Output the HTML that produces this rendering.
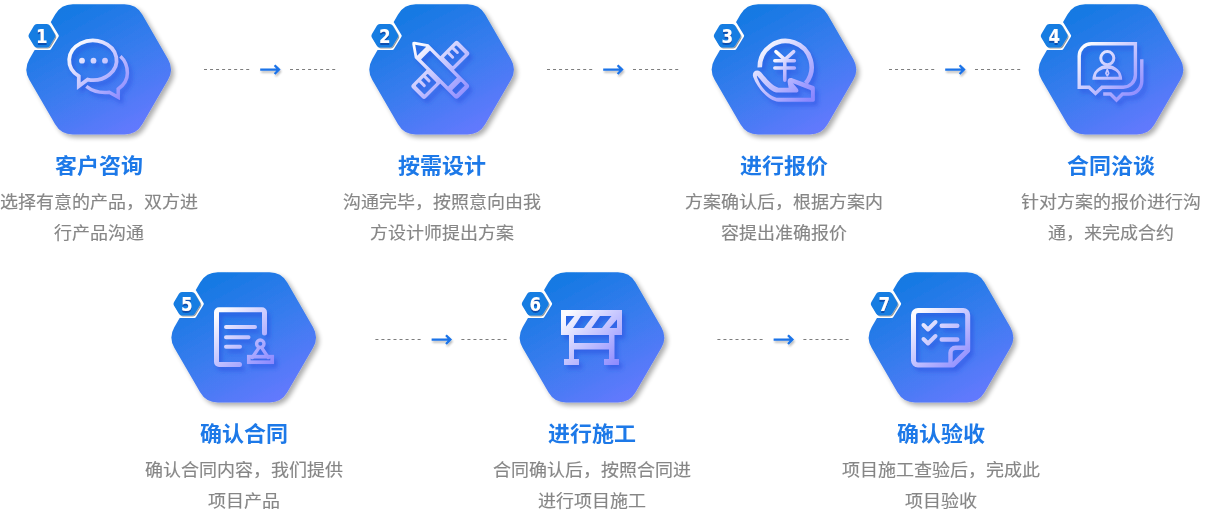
<!DOCTYPE html>
<html lang="zh-CN">
<head>
<meta charset="utf-8">
<title>服务流程</title>
<style>
html,body{margin:0;padding:0;background:#fff;}
body{width:1210px;height:511px;position:relative;overflow:hidden;font-family:"Liberation Sans","Noto Sans CJK SC",sans-serif;}
.gfx{position:absolute;left:0;top:0;display:block;will-change:transform;}
.ic{fill:none;stroke-width:3.4;stroke-linecap:round;stroke-linejoin:round;}
.num{font-family:"DejaVu Sans","Liberation Sans",sans-serif;font-weight:bold;font-size:19.2px;}
.step{position:absolute;width:260px;margin-left:-130px;text-align:center;white-space:nowrap;will-change:transform;opacity:0.999;}
.step h3{margin:0;font-size:22px;line-height:32px;font-weight:bold;color:#1d79e8;position:absolute;left:0;right:0;transform:translateY(-0.65px) scaleY(0.95);}
.step p{margin:0;font-size:18px;line-height:31.0px;color:#868686;-webkit-text-stroke:0.16px #868686;position:absolute;left:0;right:0;}
.step p span{display:block;transform:translateY(-1.05px) scaleY(0.95);}
</style>
</head>
<body>

<svg class="gfx" width="1210" height="511" viewBox="0 0 1210 511">
<defs>
<linearGradient id="hg" x1="0.2" y1="0" x2="0.8" y2="1">
<stop offset="0" stop-color="#0f79e1"/><stop offset="0.5" stop-color="#387bee"/><stop offset="1" stop-color="#6779ff"/>
</linearGradient>
<filter id="hs" x="-20%" y="-20%" width="150%" height="150%">
<feGaussianBlur in="SourceAlpha" stdDeviation="2.9"/><feOffset dx="3" dy="3"/>
<feComponentTransfer><feFuncA type="linear" slope="0.33"/></feComponentTransfer>
<feMerge><feMergeNode/><feMergeNode in="SourceGraphic"/></feMerge>
</filter>
<filter id="is" x="-30%" y="-30%" width="170%" height="170%">
<feGaussianBlur in="SourceAlpha" stdDeviation="2.2"/><feOffset dx="3" dy="3.5" result="b"/>
<feFlood flood-color="#2a4fe0" flood-opacity="0.6"/><feComposite operator="in" in2="b"/>
</filter>
<filter id="as" x="-30%" y="-60%" width="160%" height="260%">
<feGaussianBlur in="SourceAlpha" stdDeviation="0.9"/><feOffset dx="0.6" dy="2.2"/>
<feComponentTransfer><feFuncA type="linear" slope="0.28"/></feComponentTransfer>
<feMerge><feMergeNode/><feMergeNode in="SourceGraphic"/></feMerge>
</filter>
<filter id="ts" x="-30%" y="-30%" width="160%" height="170%">
<feOffset in="SourceAlpha" dx="0.2" dy="1.9" result="o"/><feGaussianBlur in="o" stdDeviation="0.45" result="b"/>
<feFlood flood-color="#0a50b0"/><feComposite operator="in" in2="b"/>
<feMerge><feMergeNode/><feMergeNode in="SourceGraphic"/></feMerge>
</filter>
<filter id="bs" x="-30%" y="-30%" width="170%" height="170%">
<feGaussianBlur in="SourceAlpha" stdDeviation="0.7"/><feOffset dx="0.9" dy="1.3"/>
<feComponentTransfer><feFuncA type="linear" slope="0.4"/></feComponentTransfer>
<feMerge><feMergeNode/><feMergeNode in="SourceGraphic"/></feMerge>
</filter>
</defs>
<g transform="translate(98.7 69.4)">
<path d="M69.38 -10.25 A20.50 20.50 0 0 1 69.38 10.25 L43.57 54.96 A20.50 20.50 0 0 1 25.81 65.21 L-25.81 65.21 A20.50 20.50 0 0 1 -43.57 54.96 L-69.38 10.25 A20.50 20.50 0 0 1 -69.38 -10.25 L-43.57 -54.96 A20.50 20.50 0 0 1 -25.81 -65.21 L25.81 -65.21 A20.50 20.50 0 0 1 43.57 -54.96 Z" fill="url(#hg)" filter="url(#hs)"/>
<g class="ic"><g transform="translate(-98.7 -69.4)"><linearGradient id="ig1" gradientUnits="userSpaceOnUse" x1="72.7" y1="41.400000000000006" x2="124.7" y2="99.4"><stop offset="0.05" stop-color="#fbfbff"/><stop offset="0.42" stop-color="#cdcdff"/><stop offset="1" stop-color="#8a87ff"/></linearGradient><g filter="url(#is)" stroke="#000">
<g stroke-linejoin="miter" stroke-miterlimit="6">
<path d="M87.7 79.6 A23.7 19.8 0 1 0 78.8 76.2 L78.8 86.3 Z" stroke-width="3.8"/>
<path d="M120.4 56.3 C125 60.5 127.4 66.5 127.4 73 C127.4 79.5 123.8 85.2 118.2 89 L118.2 97.3 L109.3 92.3 C101 93.2 92.5 91.3 86.3 86.4" stroke-width="3.5" stroke-linecap="butt"/>
</g>
<circle cx="82" cy="60.7" r="2.9" fill="#000" stroke="none"/>
<circle cx="93.5" cy="60.7" r="2.9" fill="#000" stroke="none"/>
<circle cx="105" cy="60.7" r="2.9" fill="#000" stroke="none"/>
</g><g stroke="url(#ig1)">
<g stroke-linejoin="miter" stroke-miterlimit="6">
<path d="M87.7 79.6 A23.7 19.8 0 1 0 78.8 76.2 L78.8 86.3 Z" stroke-width="3.8"/>
<path d="M120.4 56.3 C125 60.5 127.4 66.5 127.4 73 C127.4 79.5 123.8 85.2 118.2 89 L118.2 97.3 L109.3 92.3 C101 93.2 92.5 91.3 86.3 86.4" stroke-width="3.5" stroke-linecap="butt"/>
</g>
<circle cx="82" cy="60.7" r="2.9" fill="url(#ig1)" stroke="none"/>
<circle cx="93.5" cy="60.7" r="2.9" fill="url(#ig1)" stroke="none"/>
<circle cx="105" cy="60.7" r="2.9" fill="url(#ig1)" stroke="none"/>
</g></g></g>
<g transform="translate(-56.8 -33.6)">
<path d="M16.68 -0.90 A1.80 1.80 0 0 1 16.68 0.90 L9.12 14.00 A1.80 1.80 0 0 1 7.56 14.90 L-7.56 14.90 A1.80 1.80 0 0 1 -9.12 14.00 L-16.68 0.90 A1.80 1.80 0 0 1 -16.68 -0.90 L-9.12 -14.00 A1.80 1.80 0 0 1 -7.56 -14.90 L7.56 -14.90 A1.80 1.80 0 0 1 9.12 -14.00 Z" fill="#fff" transform="scale(1 0.945)"/>
<path d="M12.97 -1.70 A3.40 3.40 0 0 1 12.97 1.70 L7.96 10.38 A3.40 3.40 0 0 1 5.01 12.08 L-5.01 12.08 A3.40 3.40 0 0 1 -7.96 10.38 L-12.97 1.70 A3.40 3.40 0 0 1 -12.97 -1.70 L-7.96 -10.38 A3.40 3.40 0 0 1 -5.01 -12.08 L5.01 -12.08 A3.40 3.40 0 0 1 7.96 -10.38 Z" fill="#187de2" filter="url(#bs)" transform="scale(1 0.968)"/>
<text x="0" y="6.95" text-anchor="middle" class="num" fill="#fff" filter="url(#ts)" transform="scale(0.87 1)">1</text>
</g>
</g>
<g transform="translate(441.6 69.4)">
<path d="M69.38 -10.25 A20.50 20.50 0 0 1 69.38 10.25 L43.57 54.96 A20.50 20.50 0 0 1 25.81 65.21 L-25.81 65.21 A20.50 20.50 0 0 1 -43.57 54.96 L-69.38 10.25 A20.50 20.50 0 0 1 -69.38 -10.25 L-43.57 -54.96 A20.50 20.50 0 0 1 -25.81 -65.21 L25.81 -65.21 A20.50 20.50 0 0 1 43.57 -54.96 Z" fill="url(#hg)" filter="url(#hs)"/>
<g class="ic"><g transform="translate(-441.6 -69.4)"><linearGradient id="ig2" gradientUnits="userSpaceOnUse" x1="415.6" y1="41.400000000000006" x2="467.6" y2="99.4"><stop offset="0.05" stop-color="#fbfbff"/><stop offset="0.42" stop-color="#cdcdff"/><stop offset="1" stop-color="#8a87ff"/></linearGradient><g filter="url(#is)" stroke="#000">
<path fill="#000" stroke="none" fill-rule="evenodd" d="M439.86 56.63 L454.70 41.78 A2.8 2.8 -45 0 1 458.66 41.78 L468.42 51.54 A2.8 2.8 -45 0 1 468.42 55.50 L453.57 70.34 Z M444.38 56.91 L455.62 45.67 A0.8 0.8 -45 0 1 456.75 45.67 L464.53 53.45 A0.8 0.8 -45 0 1 464.53 54.58 L453.29 65.82 A0.8 0.8 -45 0 1 452.16 65.82 L444.38 58.04 A0.8 0.8 -45 0 1 444.38 56.91 Z M427.13 69.36 L412.28 84.20 A2.8 2.8 -45 0 0 412.28 88.16 L422.04 97.92 A2.8 2.8 -45 0 0 426.00 97.92 L440.84 83.07 Z M416.17 85.12 L427.06 74.23 A0.8 0.8 -45 0 1 428.19 74.23 L435.97 82.01 A0.8 0.8 -45 0 1 435.97 83.14 L425.08 94.03 A0.8 0.8 -45 0 1 423.95 94.03 L416.17 86.25 A0.8 0.8 -45 0 1 416.17 85.12 Z"/>
<path d="M448.20 52.81 L452.65 57.26 M452.94 48.07 L457.39 52.53 M424.58 76.43 L429.04 80.88 M419.84 81.16 L424.30 85.62" stroke-width="3"/>
<path fill="#000" stroke="none" fill-rule="evenodd" d="M428.47 44.25 L468.14 83.92 A3 3 45 0 1 468.14 88.16 L458.66 97.64 A3 3 45 0 1 454.42 97.64 L414.75 57.97 L412.28 44.18 Q411.78 41.28 414.68 41.78 Z M415.18 44.68 L417.16 55.71 L426.21 46.66 Z M430.17 50.76 L456.79 77.38 A0.3 0.3 45 0 1 456.79 77.80 L448.30 86.29 A0.3 0.3 45 0 1 447.88 86.29 L421.26 59.67 A0.3 0.3 45 0 1 421.26 59.24 L429.74 50.76 A0.3 0.3 45 0 1 430.17 50.76 Z M461.49 82.08 L464.32 84.91 A0.8 0.8 45 0 1 464.32 86.04 L456.54 93.82 A0.8 0.8 45 0 1 455.41 93.82 L452.58 90.99 A0.8 0.8 45 0 1 452.58 89.86 L460.36 82.08 A0.8 0.8 45 0 1 461.49 82.08 Z"/>
</g><g stroke="url(#ig2)">
<path fill="url(#ig2)" stroke="none" fill-rule="evenodd" d="M439.86 56.63 L454.70 41.78 A2.8 2.8 -45 0 1 458.66 41.78 L468.42 51.54 A2.8 2.8 -45 0 1 468.42 55.50 L453.57 70.34 Z M444.38 56.91 L455.62 45.67 A0.8 0.8 -45 0 1 456.75 45.67 L464.53 53.45 A0.8 0.8 -45 0 1 464.53 54.58 L453.29 65.82 A0.8 0.8 -45 0 1 452.16 65.82 L444.38 58.04 A0.8 0.8 -45 0 1 444.38 56.91 Z M427.13 69.36 L412.28 84.20 A2.8 2.8 -45 0 0 412.28 88.16 L422.04 97.92 A2.8 2.8 -45 0 0 426.00 97.92 L440.84 83.07 Z M416.17 85.12 L427.06 74.23 A0.8 0.8 -45 0 1 428.19 74.23 L435.97 82.01 A0.8 0.8 -45 0 1 435.97 83.14 L425.08 94.03 A0.8 0.8 -45 0 1 423.95 94.03 L416.17 86.25 A0.8 0.8 -45 0 1 416.17 85.12 Z"/>
<path d="M448.20 52.81 L452.65 57.26 M452.94 48.07 L457.39 52.53 M424.58 76.43 L429.04 80.88 M419.84 81.16 L424.30 85.62" stroke-width="3"/>
<path fill="url(#ig2)" stroke="none" fill-rule="evenodd" d="M428.47 44.25 L468.14 83.92 A3 3 45 0 1 468.14 88.16 L458.66 97.64 A3 3 45 0 1 454.42 97.64 L414.75 57.97 L412.28 44.18 Q411.78 41.28 414.68 41.78 Z M415.18 44.68 L417.16 55.71 L426.21 46.66 Z M430.17 50.76 L456.79 77.38 A0.3 0.3 45 0 1 456.79 77.80 L448.30 86.29 A0.3 0.3 45 0 1 447.88 86.29 L421.26 59.67 A0.3 0.3 45 0 1 421.26 59.24 L429.74 50.76 A0.3 0.3 45 0 1 430.17 50.76 Z M461.49 82.08 L464.32 84.91 A0.8 0.8 45 0 1 464.32 86.04 L456.54 93.82 A0.8 0.8 45 0 1 455.41 93.82 L452.58 90.99 A0.8 0.8 45 0 1 452.58 89.86 L460.36 82.08 A0.8 0.8 45 0 1 461.49 82.08 Z"/>
</g></g></g>
<g transform="translate(-56.8 -33.6)">
<path d="M16.68 -0.90 A1.80 1.80 0 0 1 16.68 0.90 L9.12 14.00 A1.80 1.80 0 0 1 7.56 14.90 L-7.56 14.90 A1.80 1.80 0 0 1 -9.12 14.00 L-16.68 0.90 A1.80 1.80 0 0 1 -16.68 -0.90 L-9.12 -14.00 A1.80 1.80 0 0 1 -7.56 -14.90 L7.56 -14.90 A1.80 1.80 0 0 1 9.12 -14.00 Z" fill="#fff" transform="scale(1 0.945)"/>
<path d="M12.97 -1.70 A3.40 3.40 0 0 1 12.97 1.70 L7.96 10.38 A3.40 3.40 0 0 1 5.01 12.08 L-5.01 12.08 A3.40 3.40 0 0 1 -7.96 10.38 L-12.97 1.70 A3.40 3.40 0 0 1 -12.97 -1.70 L-7.96 -10.38 A3.40 3.40 0 0 1 -5.01 -12.08 L5.01 -12.08 A3.40 3.40 0 0 1 7.96 -10.38 Z" fill="#187de2" filter="url(#bs)" transform="scale(1 0.968)"/>
<text x="0" y="6.95" text-anchor="middle" class="num" fill="#fff" filter="url(#ts)" transform="scale(0.87 1)">2</text>
</g>
</g>
<g transform="translate(784.0 69.4)">
<path d="M69.38 -10.25 A20.50 20.50 0 0 1 69.38 10.25 L43.57 54.96 A20.50 20.50 0 0 1 25.81 65.21 L-25.81 65.21 A20.50 20.50 0 0 1 -43.57 54.96 L-69.38 10.25 A20.50 20.50 0 0 1 -69.38 -10.25 L-43.57 -54.96 A20.50 20.50 0 0 1 -25.81 -65.21 L25.81 -65.21 A20.50 20.50 0 0 1 43.57 -54.96 Z" fill="url(#hg)" filter="url(#hs)"/>
<g class="ic"><g transform="translate(-784 -69.4)"><linearGradient id="ig3" gradientUnits="userSpaceOnUse" x1="758" y1="41.400000000000006" x2="810" y2="99.4"><stop offset="0.05" stop-color="#fbfbff"/><stop offset="0.42" stop-color="#cdcdff"/><stop offset="1" stop-color="#8a87ff"/></linearGradient><linearGradient id="yg" gradientUnits="userSpaceOnUse" x1="772" y1="52" x2="797" y2="72"><stop offset="0.15" stop-color="#ffffff"/><stop offset="1" stop-color="#9f9bff"/></linearGradient><g filter="url(#is)" stroke="#000">
<path d="M759.8 67.4 A25.9 25.9 0 1 1 805.8 83.3" stroke-width="4.6" stroke-linecap="butt"/>
<g stroke="#000"><path d="M775.9 51.6 L784.8 59.6 L793.7 51.6 M784.8 59.6 V80.2 M774.8 60.7 H794.4 M774.8 68 H794.4" stroke-width="3.5"/></g>
<path fill="#000" stroke="none" fill-rule="evenodd" d="M757.2 70.6 C759.5 70.6 760.8 72 762.5 74 C766 78 772.5 86 778.5 87.75 L788.6 87.8 L787.7 82.5 C787.3 80.2 788.3 78.3 790.4 78.1 C791.3 78 792 78.2 792.8 78.5 L813.6 86.1 Q814.85 86.6 814.85 88 L814.85 100.3 Q814.85 101.7 813.4 101.7 L778.5 101.7 C769.5 101.7 757.5 89 753.2 77 C752 73.5 754 70.6 757.2 70.6 Z M757.2 75.8 C760 79 765 85.5 769.5 88.9 C772.5 91.2 775 92.6 778.5 92.6 L796 92.6 C797.5 92.6 798.5 91.6 798.4 90.5 C798.3 89.6 797.9 88.9 797.3 88.2 L793 83.2 L810.3 90.1 Q810.95 90.4 810.95 91.2 L810.95 97.8 L778.6 97.8 C771.5 97.8 762 89.5 758 79.5 C757 77.5 756.5 76 757.2 75.8 Z"/>
</g><g stroke="url(#ig3)">
<path d="M759.8 67.4 A25.9 25.9 0 1 1 805.8 83.3" stroke-width="4.6" stroke-linecap="butt"/>
<g stroke="url(#yg)"><path d="M775.9 51.6 L784.8 59.6 L793.7 51.6 M784.8 59.6 V80.2 M774.8 60.7 H794.4 M774.8 68 H794.4" stroke-width="3.5"/></g>
<path fill="url(#ig3)" stroke="none" fill-rule="evenodd" d="M757.2 70.6 C759.5 70.6 760.8 72 762.5 74 C766 78 772.5 86 778.5 87.75 L788.6 87.8 L787.7 82.5 C787.3 80.2 788.3 78.3 790.4 78.1 C791.3 78 792 78.2 792.8 78.5 L813.6 86.1 Q814.85 86.6 814.85 88 L814.85 100.3 Q814.85 101.7 813.4 101.7 L778.5 101.7 C769.5 101.7 757.5 89 753.2 77 C752 73.5 754 70.6 757.2 70.6 Z M757.2 75.8 C760 79 765 85.5 769.5 88.9 C772.5 91.2 775 92.6 778.5 92.6 L796 92.6 C797.5 92.6 798.5 91.6 798.4 90.5 C798.3 89.6 797.9 88.9 797.3 88.2 L793 83.2 L810.3 90.1 Q810.95 90.4 810.95 91.2 L810.95 97.8 L778.6 97.8 C771.5 97.8 762 89.5 758 79.5 C757 77.5 756.5 76 757.2 75.8 Z"/>
</g></g></g>
<g transform="translate(-56.8 -33.6)">
<path d="M16.68 -0.90 A1.80 1.80 0 0 1 16.68 0.90 L9.12 14.00 A1.80 1.80 0 0 1 7.56 14.90 L-7.56 14.90 A1.80 1.80 0 0 1 -9.12 14.00 L-16.68 0.90 A1.80 1.80 0 0 1 -16.68 -0.90 L-9.12 -14.00 A1.80 1.80 0 0 1 -7.56 -14.90 L7.56 -14.90 A1.80 1.80 0 0 1 9.12 -14.00 Z" fill="#fff" transform="scale(1 0.945)"/>
<path d="M12.97 -1.70 A3.40 3.40 0 0 1 12.97 1.70 L7.96 10.38 A3.40 3.40 0 0 1 5.01 12.08 L-5.01 12.08 A3.40 3.40 0 0 1 -7.96 10.38 L-12.97 1.70 A3.40 3.40 0 0 1 -12.97 -1.70 L-7.96 -10.38 A3.40 3.40 0 0 1 -5.01 -12.08 L5.01 -12.08 A3.40 3.40 0 0 1 7.96 -10.38 Z" fill="#187de2" filter="url(#bs)" transform="scale(1 0.968)"/>
<text x="0" y="6.95" text-anchor="middle" class="num" fill="#fff" filter="url(#ts)" transform="scale(0.87 1)">3</text>
</g>
</g>
<g transform="translate(1111.0 69.4)">
<path d="M69.38 -10.25 A20.50 20.50 0 0 1 69.38 10.25 L43.57 54.96 A20.50 20.50 0 0 1 25.81 65.21 L-25.81 65.21 A20.50 20.50 0 0 1 -43.57 54.96 L-69.38 10.25 A20.50 20.50 0 0 1 -69.38 -10.25 L-43.57 -54.96 A20.50 20.50 0 0 1 -25.81 -65.21 L25.81 -65.21 A20.50 20.50 0 0 1 43.57 -54.96 Z" fill="url(#hg)" filter="url(#hs)"/>
<g class="ic"><g transform="translate(-1111 -69.4)"><linearGradient id="ig4" gradientUnits="userSpaceOnUse" x1="1085" y1="41.400000000000006" x2="1137" y2="99.4"><stop offset="0.05" stop-color="#fbfbff"/><stop offset="0.42" stop-color="#cdcdff"/><stop offset="1" stop-color="#8a87ff"/></linearGradient><g filter="url(#is)" stroke="#000">
<path d="M1079.2 87.2 V56 A12.2 12.2 0 0 1 1091.4 43.8 H1135.4 V75 A12.2 12.2 0 0 1 1123.2 87.2 H1102 L1095.5 93.5 L1089 87.2 Z" stroke-linejoin="miter" stroke-width="3.4"/>
<path d="M1141.8 59.3 V81 A13 13 0 0 1 1128.8 94 H1122.5 L1116.5 100 L1110.5 94 H1103.2" stroke-linejoin="miter" stroke-linecap="butt" stroke-width="3.4"/>
<circle cx="1107.3" cy="58.1" r="6.55" stroke-width="3"/>
<path fill="#000" stroke="none" fill-rule="evenodd" d="M1092.4 79.8 A14.9 14.9 0 0 1 1122.2 79.8 Z M1095.9 76.7 A11.4 8 0 0 1 1118.7 76.7 Z"/>
<path d="M1107.3 69.6 L1108.7 73.3 L1107.3 75.8 L1105.9 73.3 Z" stroke-width="1.7"/>
</g><g stroke="url(#ig4)">
<path d="M1079.2 87.2 V56 A12.2 12.2 0 0 1 1091.4 43.8 H1135.4 V75 A12.2 12.2 0 0 1 1123.2 87.2 H1102 L1095.5 93.5 L1089 87.2 Z" stroke-linejoin="miter" stroke-width="3.4"/>
<path d="M1141.8 59.3 V81 A13 13 0 0 1 1128.8 94 H1122.5 L1116.5 100 L1110.5 94 H1103.2" stroke-linejoin="miter" stroke-linecap="butt" stroke-width="3.4"/>
<circle cx="1107.3" cy="58.1" r="6.55" stroke-width="3"/>
<path fill="url(#ig4)" stroke="none" fill-rule="evenodd" d="M1092.4 79.8 A14.9 14.9 0 0 1 1122.2 79.8 Z M1095.9 76.7 A11.4 8 0 0 1 1118.7 76.7 Z"/>
<path d="M1107.3 69.6 L1108.7 73.3 L1107.3 75.8 L1105.9 73.3 Z" stroke-width="1.7"/>
</g></g></g>
<g transform="translate(-56.8 -33.6)">
<path d="M16.68 -0.90 A1.80 1.80 0 0 1 16.68 0.90 L9.12 14.00 A1.80 1.80 0 0 1 7.56 14.90 L-7.56 14.90 A1.80 1.80 0 0 1 -9.12 14.00 L-16.68 0.90 A1.80 1.80 0 0 1 -16.68 -0.90 L-9.12 -14.00 A1.80 1.80 0 0 1 -7.56 -14.90 L7.56 -14.90 A1.80 1.80 0 0 1 9.12 -14.00 Z" fill="#fff" transform="scale(1 0.945)"/>
<path d="M12.97 -1.70 A3.40 3.40 0 0 1 12.97 1.70 L7.96 10.38 A3.40 3.40 0 0 1 5.01 12.08 L-5.01 12.08 A3.40 3.40 0 0 1 -7.96 10.38 L-12.97 1.70 A3.40 3.40 0 0 1 -12.97 -1.70 L-7.96 -10.38 A3.40 3.40 0 0 1 -5.01 -12.08 L5.01 -12.08 A3.40 3.40 0 0 1 7.96 -10.38 Z" fill="#187de2" filter="url(#bs)" transform="scale(1 0.968)"/>
<text x="0" y="6.95" text-anchor="middle" class="num" fill="#fff" filter="url(#ts)" transform="scale(0.87 1)">4</text>
</g>
</g>
<g transform="translate(243.7 337.4)">
<path d="M69.38 -10.25 A20.50 20.50 0 0 1 69.38 10.25 L43.57 54.96 A20.50 20.50 0 0 1 25.81 65.21 L-25.81 65.21 A20.50 20.50 0 0 1 -43.57 54.96 L-69.38 10.25 A20.50 20.50 0 0 1 -69.38 -10.25 L-43.57 -54.96 A20.50 20.50 0 0 1 -25.81 -65.21 L25.81 -65.21 A20.50 20.50 0 0 1 43.57 -54.96 Z" fill="url(#hg)" filter="url(#hs)"/>
<g class="ic"><g transform="translate(-243.7 -337.4)"><linearGradient id="ig5" gradientUnits="userSpaceOnUse" x1="217.7" y1="309.4" x2="269.7" y2="367.4"><stop offset="0.05" stop-color="#fbfbff"/><stop offset="0.42" stop-color="#cdcdff"/><stop offset="1" stop-color="#8a87ff"/></linearGradient><g filter="url(#is)" stroke="#000">
<path d="M264.5 333 V312.2 A2.5 2.5 0 0 0 262 309.7 H219 A2.5 2.5 0 0 0 216.5 312.2 V362 A2.5 2.5 0 0 0 219 364.5 H239.5" stroke-width="5"/>
<path d="M226 327 H255 M226 337.3 H248.5 M226 346.8 H240" stroke-width="4"/>
<circle cx="260.3" cy="343.7" r="3.7" stroke-width="3.4"/>
<path d="M259.0 347.6 L252.3 357.5 M261.6 347.6 L268.3 357.5" stroke-width="3.4"/>
<rect x="248.8" y="356.7" width="23.4" height="5.5" stroke-width="3.7" stroke-linejoin="miter"/>
</g><g stroke="url(#ig5)">
<path d="M264.5 333 V312.2 A2.5 2.5 0 0 0 262 309.7 H219 A2.5 2.5 0 0 0 216.5 312.2 V362 A2.5 2.5 0 0 0 219 364.5 H239.5" stroke-width="5"/>
<path d="M226 327 H255 M226 337.3 H248.5 M226 346.8 H240" stroke-width="4"/>
<circle cx="260.3" cy="343.7" r="3.7" stroke-width="3.4"/>
<path d="M259.0 347.6 L252.3 357.5 M261.6 347.6 L268.3 357.5" stroke-width="3.4"/>
<rect x="248.8" y="356.7" width="23.4" height="5.5" stroke-width="3.7" stroke-linejoin="miter"/>
</g></g></g>
<g transform="translate(-56.8 -33.6)">
<path d="M16.68 -0.90 A1.80 1.80 0 0 1 16.68 0.90 L9.12 14.00 A1.80 1.80 0 0 1 7.56 14.90 L-7.56 14.90 A1.80 1.80 0 0 1 -9.12 14.00 L-16.68 0.90 A1.80 1.80 0 0 1 -16.68 -0.90 L-9.12 -14.00 A1.80 1.80 0 0 1 -7.56 -14.90 L7.56 -14.90 A1.80 1.80 0 0 1 9.12 -14.00 Z" fill="#fff" transform="scale(1 0.945)"/>
<path d="M12.97 -1.70 A3.40 3.40 0 0 1 12.97 1.70 L7.96 10.38 A3.40 3.40 0 0 1 5.01 12.08 L-5.01 12.08 A3.40 3.40 0 0 1 -7.96 10.38 L-12.97 1.70 A3.40 3.40 0 0 1 -12.97 -1.70 L-7.96 -10.38 A3.40 3.40 0 0 1 -5.01 -12.08 L5.01 -12.08 A3.40 3.40 0 0 1 7.96 -10.38 Z" fill="#187de2" filter="url(#bs)" transform="scale(1 0.968)"/>
<text x="0" y="6.95" text-anchor="middle" class="num" fill="#fff" filter="url(#ts)" transform="scale(0.87 1)">5</text>
</g>
</g>
<g transform="translate(592.0 337.4)">
<path d="M69.38 -10.25 A20.50 20.50 0 0 1 69.38 10.25 L43.57 54.96 A20.50 20.50 0 0 1 25.81 65.21 L-25.81 65.21 A20.50 20.50 0 0 1 -43.57 54.96 L-69.38 10.25 A20.50 20.50 0 0 1 -69.38 -10.25 L-43.57 -54.96 A20.50 20.50 0 0 1 -25.81 -65.21 L25.81 -65.21 A20.50 20.50 0 0 1 43.57 -54.96 Z" fill="url(#hg)" filter="url(#hs)"/>
<g class="ic"><g transform="translate(-592 -337.4)"><linearGradient id="ig6" gradientUnits="userSpaceOnUse" x1="566" y1="309.4" x2="618" y2="367.4"><stop offset="0.05" stop-color="#fbfbff"/><stop offset="0.42" stop-color="#cdcdff"/><stop offset="1" stop-color="#8a87ff"/></linearGradient><g filter="url(#is)" stroke="#000">
<path fill="#000" stroke="none" fill-rule="evenodd" d="M561 310 H622 V335 H614.5 V359 H619 V365 H604 V359 H609 V349.5 H574 V359 H579 V365 H564 V359 H569 V335 H561 Z
M574 335 V343 H609 V335 Z
M566 316 H574.5 L566 326.5 Z
M581 316 H593 L584 328 H573 Z
M600 316 H611.5 L602 328 H591.5 Z
M617 319.5 V328 H609.5 Z"/>
</g><g stroke="url(#ig6)">
<path fill="url(#ig6)" stroke="none" fill-rule="evenodd" d="M561 310 H622 V335 H614.5 V359 H619 V365 H604 V359 H609 V349.5 H574 V359 H579 V365 H564 V359 H569 V335 H561 Z
M574 335 V343 H609 V335 Z
M566 316 H574.5 L566 326.5 Z
M581 316 H593 L584 328 H573 Z
M600 316 H611.5 L602 328 H591.5 Z
M617 319.5 V328 H609.5 Z"/>
</g></g></g>
<g transform="translate(-56.8 -33.6)">
<path d="M16.68 -0.90 A1.80 1.80 0 0 1 16.68 0.90 L9.12 14.00 A1.80 1.80 0 0 1 7.56 14.90 L-7.56 14.90 A1.80 1.80 0 0 1 -9.12 14.00 L-16.68 0.90 A1.80 1.80 0 0 1 -16.68 -0.90 L-9.12 -14.00 A1.80 1.80 0 0 1 -7.56 -14.90 L7.56 -14.90 A1.80 1.80 0 0 1 9.12 -14.00 Z" fill="#fff" transform="scale(1 0.945)"/>
<path d="M12.97 -1.70 A3.40 3.40 0 0 1 12.97 1.70 L7.96 10.38 A3.40 3.40 0 0 1 5.01 12.08 L-5.01 12.08 A3.40 3.40 0 0 1 -7.96 10.38 L-12.97 1.70 A3.40 3.40 0 0 1 -12.97 -1.70 L-7.96 -10.38 A3.40 3.40 0 0 1 -5.01 -12.08 L5.01 -12.08 A3.40 3.40 0 0 1 7.96 -10.38 Z" fill="#187de2" filter="url(#bs)" transform="scale(1 0.968)"/>
<text x="0" y="6.95" text-anchor="middle" class="num" fill="#fff" filter="url(#ts)" transform="scale(0.87 1)">6</text>
</g>
</g>
<g transform="translate(941.0 337.4)">
<path d="M69.38 -10.25 A20.50 20.50 0 0 1 69.38 10.25 L43.57 54.96 A20.50 20.50 0 0 1 25.81 65.21 L-25.81 65.21 A20.50 20.50 0 0 1 -43.57 54.96 L-69.38 10.25 A20.50 20.50 0 0 1 -69.38 -10.25 L-43.57 -54.96 A20.50 20.50 0 0 1 -25.81 -65.21 L25.81 -65.21 A20.50 20.50 0 0 1 43.57 -54.96 Z" fill="url(#hg)" filter="url(#hs)"/>
<g class="ic"><g transform="translate(-941 -337.4)"><linearGradient id="ig7" gradientUnits="userSpaceOnUse" x1="915" y1="309.4" x2="967" y2="367.4"><stop offset="0.05" stop-color="#fbfbff"/><stop offset="0.42" stop-color="#cdcdff"/><stop offset="1" stop-color="#8a87ff"/></linearGradient><g filter="url(#is)" stroke="#000">
<path d="M967.7 350.5 V315 A4.5 4.5 0 0 0 963.2 310.5 H918 A4.5 4.5 0 0 0 913.5 315 V360.5 A4.5 4.5 0 0 0 918 365 H953 Z" stroke-width="5"/>
<path d="M967 347.8 H955.5 A5 5 0 0 0 950.5 352.8 V364.5" stroke-width="4.4"/>
<path d="M923.5 325 L928 329.5 L935.5 322 M923.5 339 L928 343.5 L935.5 336" stroke-width="4"/>
<path d="M941.7 325.8 H957.3 M941.7 339.5 H957.3" stroke-width="4.4"/>
</g><g stroke="url(#ig7)">
<path d="M967.7 350.5 V315 A4.5 4.5 0 0 0 963.2 310.5 H918 A4.5 4.5 0 0 0 913.5 315 V360.5 A4.5 4.5 0 0 0 918 365 H953 Z" stroke-width="5"/>
<path d="M967 347.8 H955.5 A5 5 0 0 0 950.5 352.8 V364.5" stroke-width="4.4"/>
<path d="M923.5 325 L928 329.5 L935.5 322 M923.5 339 L928 343.5 L935.5 336" stroke-width="4"/>
<path d="M941.7 325.8 H957.3 M941.7 339.5 H957.3" stroke-width="4.4"/>
</g></g></g>
<g transform="translate(-56.8 -33.6)">
<path d="M16.68 -0.90 A1.80 1.80 0 0 1 16.68 0.90 L9.12 14.00 A1.80 1.80 0 0 1 7.56 14.90 L-7.56 14.90 A1.80 1.80 0 0 1 -9.12 14.00 L-16.68 0.90 A1.80 1.80 0 0 1 -16.68 -0.90 L-9.12 -14.00 A1.80 1.80 0 0 1 -7.56 -14.90 L7.56 -14.90 A1.80 1.80 0 0 1 9.12 -14.00 Z" fill="#fff" transform="scale(1 0.945)"/>
<path d="M12.97 -1.70 A3.40 3.40 0 0 1 12.97 1.70 L7.96 10.38 A3.40 3.40 0 0 1 5.01 12.08 L-5.01 12.08 A3.40 3.40 0 0 1 -7.96 10.38 L-12.97 1.70 A3.40 3.40 0 0 1 -12.97 -1.70 L-7.96 -10.38 A3.40 3.40 0 0 1 -5.01 -12.08 L5.01 -12.08 A3.40 3.40 0 0 1 7.96 -10.38 Z" fill="#187de2" filter="url(#bs)" transform="scale(1 0.968)"/>
<text x="0" y="6.95" text-anchor="middle" class="num" fill="#fff" filter="url(#ts)" transform="scale(0.87 1)">7</text>
</g>
</g>
<g transform="translate(269.6 69.5)">
<path d="M-65.6 0H-20.4M20.4 0H65.6" stroke="#7d7d7d" stroke-width="1.15" stroke-dasharray="3 3.03" fill="none"/>
<path filter="url(#as)" d="M-9.4 0.1H9.2M5 -4.3L9.4 0.1L5 4.5" stroke="#1a73e8" stroke-width="2.3" fill="none" stroke-linecap="butt" stroke-linejoin="miter"/>
</g>
<g transform="translate(612.6 69.5)">
<path d="M-65.6 0H-20.4M20.4 0H65.6" stroke="#7d7d7d" stroke-width="1.15" stroke-dasharray="3 3.03" fill="none"/>
<path filter="url(#as)" d="M-9.4 0.1H9.2M5 -4.3L9.4 0.1L5 4.5" stroke="#1a73e8" stroke-width="2.3" fill="none" stroke-linecap="butt" stroke-linejoin="miter"/>
</g>
<g transform="translate(954.6 69.5)">
<path d="M-65.6 0H-20.4M20.4 0H65.6" stroke="#7d7d7d" stroke-width="1.15" stroke-dasharray="3 3.03" fill="none"/>
<path filter="url(#as)" d="M-9.4 0.1H9.2M5 -4.3L9.4 0.1L5 4.5" stroke="#1a73e8" stroke-width="2.3" fill="none" stroke-linecap="butt" stroke-linejoin="miter"/>
</g>
<g transform="translate(441.0 339.5)">
<path d="M-65.6 0H-20.4M20.4 0H65.6" stroke="#7d7d7d" stroke-width="1.15" stroke-dasharray="3 3.03" fill="none"/>
<path filter="url(#as)" d="M-9.4 0.1H9.2M5 -4.3L9.4 0.1L5 4.5" stroke="#1a73e8" stroke-width="2.3" fill="none" stroke-linecap="butt" stroke-linejoin="miter"/>
</g>
<g transform="translate(783.0 339.5)">
<path d="M-65.6 0H-20.4M20.4 0H65.6" stroke="#7d7d7d" stroke-width="1.15" stroke-dasharray="3 3.03" fill="none"/>
<path filter="url(#as)" d="M-9.4 0.1H9.2M5 -4.3L9.4 0.1L5 4.5" stroke="#1a73e8" stroke-width="2.3" fill="none" stroke-linecap="butt" stroke-linejoin="miter"/>
</g>
</svg>
<div class="step" style="left:98.7px;top:0.0px"><h3 style="top:151.0px">客户咨询</h3><p style="top:188.0px"><span>选择有意的产品，双方进</span><span>行产品沟通</span></p></div>
<div class="step" style="left:441.6px;top:0.0px"><h3 style="top:151.0px">按需设计</h3><p style="top:188.0px"><span>沟通完毕，按照意向由我</span><span>方设计师提出方案</span></p></div>
<div class="step" style="left:784.0px;top:0.0px"><h3 style="top:151.0px">进行报价</h3><p style="top:188.0px"><span>方案确认后，根据方案内</span><span>容提出准确报价</span></p></div>
<div class="step" style="left:1111.0px;top:0.0px"><h3 style="top:151.0px">合同洽谈</h3><p style="top:188.0px"><span>针对方案的报价进行沟</span><span>通，来完成合约</span></p></div>
<div class="step" style="left:243.7px;top:268.0px"><h3 style="top:151.0px">确认合同</h3><p style="top:188.0px"><span>确认合同内容，我们提供</span><span>项目产品</span></p></div>
<div class="step" style="left:592.0px;top:268.0px"><h3 style="top:151.0px">进行施工</h3><p style="top:188.0px"><span>合同确认后，按照合同进</span><span>进行项目施工</span></p></div>
<div class="step" style="left:941.0px;top:268.0px"><h3 style="top:151.0px">确认验收</h3><p style="top:188.0px"><span>项目施工查验后，完成此</span><span>项目验收</span></p></div>
</body>
</html>
